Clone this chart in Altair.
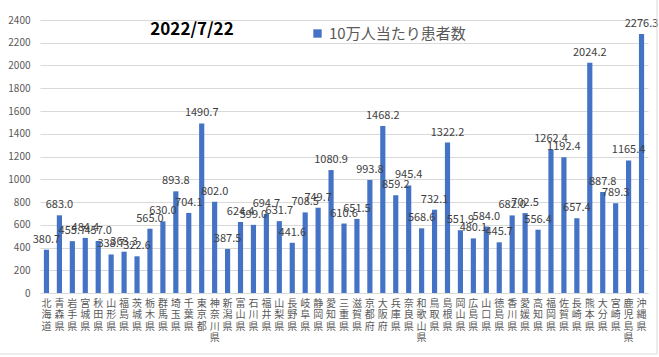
import altair as alt
import pandas as pd

prefectures = [
    "北海道", "青森県", "岩手県", "宮城県", "秋田県", "山形県", "福島県", "茨城県",
    "栃木県", "群馬県", "埼玉県", "千葉県", "東京都", "神奈川県", "新潟県", "富山県",
    "石川県", "福井県", "山梨県", "長野県", "岐阜県", "静岡県", "愛知県", "三重県",
    "滋賀県", "京都府", "大阪府", "兵庫県", "奈良県", "和歌山県", "鳥取県", "島根県",
    "岡山県", "広島県", "山口県", "徳島県", "香川県", "愛媛県", "高知県", "福岡県",
    "佐賀県", "長崎県", "熊本県", "大分県", "宮崎県", "鹿児島県", "沖縄県",
]
values = [
    380.7, 683.0, 455.7, 484.4, 457.0, 338.7, 363.3, 322.6,
    565.0, 630.0, 893.8, 704.1, 1490.7, 802.0, 387.5, 624.4,
    599.0, 694.7, 631.7, 441.6, 708.5, 749.7, 1080.9, 610.6,
    651.5, 993.8, 1468.2, 859.2, 945.4, 568.6, 732.1, 1322.2,
    551.9, 480.1, 584.0, 445.7, 682.0, 702.5, 556.4, 1262.4,
    1192.4, 657.4, 2024.2, 887.8, 789.3, 1165.4, 2276.3,
]
series_name = "10万人当たり患者数"
title_text = "2022/7/22"
y_ticks = [0, 200, 400, 600, 800, 1000, 1200, 1400, 1600, 1800, 2000, 2200, 2400]

df = pd.DataFrame({"pref": prefectures, "value": values, "series": series_name})

FONT = "Noto Sans CJK JP"
BLUE = "#4472c4"

x_enc = alt.X(
    "pref:N",
    sort=prefectures,
    title=None,
    scale=alt.Scale(paddingInner=0.6, paddingOuter=0.3),
    axis=alt.Axis(
        labelAngle=0,
        labelExpr="split(datum.label, '')",
        labelBaseline="top",
        labelLineHeight=11.5,
        labelFontSize=10,
        labelColor="#595959",
        labelPadding=5,
        labelFont=FONT,
        ticks=False,
        domainColor="#d9d9d9",
        labelOverlap=False,
    ),
)
y_enc = alt.Y(
    "value:Q",
    scale=alt.Scale(domain=[0, 2400], nice=False),
    title=None,
    axis=alt.Axis(
        values=y_ticks,
        tickCount=30,
        format="d",
        gridColor="#d9d9d9",
        domain=False,
        ticks=False,
        labelColor="#595959",
        labelFontSize=10,
        labelFont=FONT,
        labelPadding=10,
        labelOverlap=False,
    ),
)

bars = alt.Chart(df).mark_bar().encode(
    x=x_enc,
    y=y_enc,
    color=alt.Color(
        "series:N",
        scale=alt.Scale(range=[BLUE]),
        legend=alt.Legend(
            orient="none",
            legendX=270,
            legendY=6,
            title=None,
            symbolType="square",
            symbolSize=70,
            symbolStrokeWidth=0,
            labelFontSize=15,
            labelColor="#595959",
            labelFont=FONT,
        ),
    ),
)

labels = alt.Chart(df).mark_text(
    dy=-5, baseline="bottom", fontSize=11, color="#404040", font=FONT
).encode(
    x=x_enc,
    y=y_enc,
    text=alt.Text("value:Q", format=".1f"),
)

title = alt.Chart(pd.DataFrame({"t": [title_text]})).mark_text(
    fontSize=17, fontWeight="bold", color="#000000", font=FONT
).encode(x=alt.value(152), y=alt.value(10), text="t:N")

# light chart-area frame (right and bottom edges visible in the reference)
frame_right = alt.Chart(pd.DataFrame({"k": [0]})).mark_rule(
    color="#d9d9d9", strokeWidth=1
).encode(x=alt.value(617), y=alt.value(-20), y2=alt.value(334))
frame_bottom = alt.Chart(pd.DataFrame({"k": [0]})).mark_rule(
    color="#d9d9d9", strokeWidth=1
).encode(x=alt.value(-40), x2=alt.value(617), y=alt.value(334))

chart = alt.layer(bars, labels, title, frame_right, frame_bottom).properties(
    width=608,
    height=273,
    autosize=alt.AutoSizeParams(type="none"),
    padding={"left": 40, "top": 20, "right": 11, "bottom": 64},
).configure_view(stroke=None)

chart.save("out.html", embed_options={"renderer": "svg", "actions": False})
